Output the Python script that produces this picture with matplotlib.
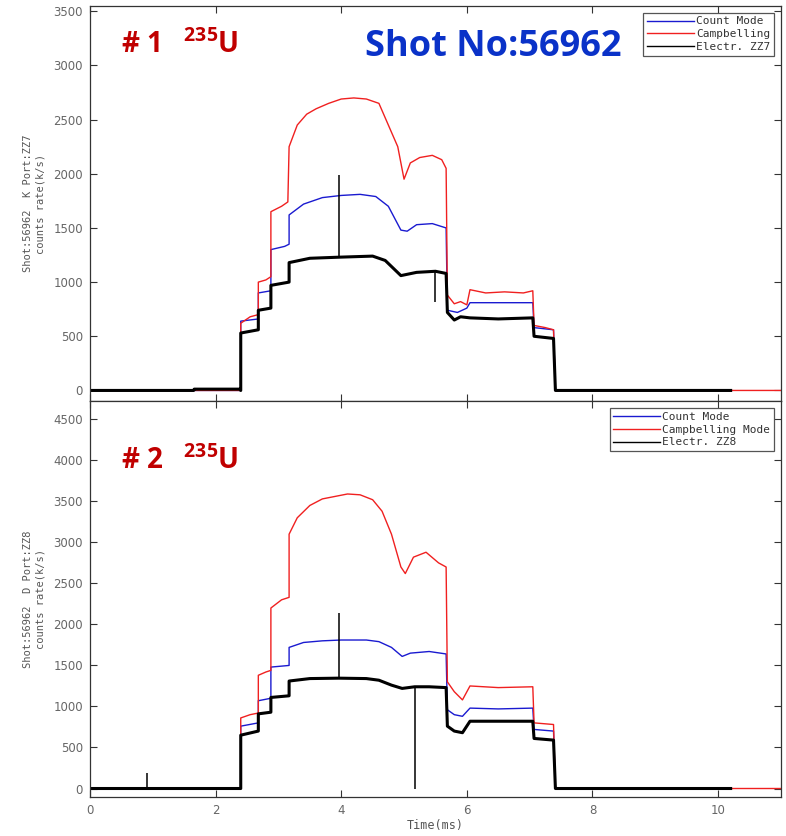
import matplotlib
matplotlib.use('Agg')
import matplotlib.pyplot as plt

plt.rcParams['mathtext.fontset'] = 'custom'
plt.rcParams['mathtext.bf'] = 'Open Sans:bold'
plt.rcParams['mathtext.rm'] = 'Open Sans'

# ---- panel 1 (K port, ZZ7) ----
t1_red = [0, 2.40, 2.40, 2.55, 2.68, 2.68, 2.80, 2.88, 2.88, 3.05, 3.15, 3.17, 3.30, 3.45, 3.60,
          3.80, 4.00, 4.20, 4.40, 4.60, 4.75, 4.90, 5.00, 5.10, 5.25, 5.45, 5.60, 5.67, 5.69, 5.80,
          5.90, 6.00, 6.05, 6.30, 6.60, 6.90, 7.05, 7.07, 7.25, 7.38, 7.41, 11.0]
v1_red = [0, 0, 620, 680, 700, 1000, 1020, 1050, 1650, 1700, 1740, 2250, 2450, 2550, 2600,
          2650, 2690, 2700, 2690, 2650, 2450, 2250, 1950, 2100, 2150, 2170, 2130, 2050, 880, 800,
          820, 790, 930, 900, 910, 900, 920, 600, 580, 560, 0, 0]

t1_blue = [0, 2.40, 2.40, 2.68, 2.68, 2.88, 2.88, 3.10, 3.17, 3.17, 3.40, 3.70, 4.00, 4.30, 4.55,
           4.75, 4.95, 5.05, 5.20, 5.45, 5.67, 5.69, 5.85, 6.00, 6.05, 6.50, 7.05, 7.07, 7.38, 7.41, 10.2]
v1_blue = [0, 0, 640, 660, 900, 920, 1300, 1330, 1350, 1620, 1720, 1780, 1800, 1810, 1790,
           1700, 1480, 1470, 1530, 1540, 1500, 740, 720, 760, 810, 810, 810, 580, 560, 0, 0]

t1_blk = [0, 1.65, 1.66, 2.38, 2.40, 2.40, 2.68, 2.68, 2.88, 2.88, 3.17, 3.17, 3.50, 3.96, 4.50,
          4.70, 4.95, 5.20, 5.50, 5.67, 5.69, 5.80, 5.90, 6.05, 6.50, 7.05, 7.07,
          7.38, 7.41, 10.2]
v1_blk = [0, 0, 12, 12, 0, 530, 560, 740, 760, 970, 1000, 1180, 1220, 1230, 1240,
          1200, 1060, 1090, 1100, 1080, 720, 650, 680, 670, 660, 670, 500,
          480, 0, 0]
# thin spikes on the black trace: time, base, tip
s1_t = [3.96, 5.50]
s1_base = [1230, 1100]
s1_tip = [1990, 820]

# ---- panel 2 (D port, ZZ8) ----
t2_red = [0, 2.40, 2.40, 2.55, 2.68, 2.68, 2.80, 2.88, 2.88, 3.05, 3.17, 3.17, 3.30, 3.50, 3.70,
          3.90, 4.10, 4.30, 4.50, 4.65, 4.80, 4.95, 5.02, 5.15, 5.35, 5.55, 5.67, 5.69, 5.80,
          5.93, 6.05, 6.50, 7.05, 7.07, 7.38, 7.41, 11.0]
v2_red = [0, 0, 860, 900, 920, 1380, 1420, 1440, 2200, 2300, 2330, 3100, 3300, 3450, 3530,
          3560, 3590, 3580, 3520, 3380, 3100, 2700, 2620, 2820, 2880, 2750, 2700, 1300, 1180,
          1080, 1250, 1230, 1240, 800, 780, 0, 0]

t2_blue = [0, 2.40, 2.40, 2.68, 2.68, 2.88, 2.88, 3.17, 3.17, 3.40, 3.70, 4.00, 4.40, 4.60, 4.80,
           4.97, 5.10, 5.40, 5.67, 5.69, 5.80, 5.93, 6.05, 6.50, 7.05, 7.07, 7.38, 7.41, 10.2]
v2_blue = [0, 0, 760, 800, 1070, 1100, 1480, 1500, 1720, 1780, 1800, 1810, 1810, 1790, 1720,
           1610, 1650, 1670, 1640, 960, 900, 880, 980, 970, 980, 720, 700, 0, 0]

t2_blk = [0, 2.40, 2.40, 2.68, 2.68, 2.88, 2.88, 3.17, 3.17, 3.50, 3.96,
          4.40, 4.60, 4.80, 4.97, 5.17, 5.40, 5.67, 5.69, 5.80, 5.93, 6.05,
          6.50, 7.05, 7.07, 7.38, 7.41, 10.2]
v2_blk = [0, 0, 650, 700, 910, 930, 1110, 1130, 1310, 1340, 1345,
          1340, 1320, 1260, 1220, 1240, 1240, 1230, 760, 700, 680, 820,
          820, 820, 610, 590, 0, 0]
s2_t = [0.90, 3.96, 5.17]
s2_base = [0, 1345, 1240]
s2_tip = [190, 2140, 0]

xticks = [0, 2, 4, 6, 8, 10]
yticks1 = [0, 500, 1000, 1500, 2000, 2500, 3000, 3500]
yticks2 = [0, 500, 1000, 1500, 2000, 2500, 3000, 3500, 4000, 4500]

fig = plt.figure(figsize=(7.86, 8.36), dpi=100)
ax1 = fig.add_axes([0.1145, 0.520, 0.879, 0.473])
ax2 = fig.add_axes([0.1145, 0.047, 0.879, 0.473])

BLUE = '#1a1ad0'
RED = '#f02020'
mono = 'DejaVu Sans Mono'

panels = [
    (ax1, t1_blue, v1_blue, t1_red, v1_red, t1_blk, v1_blk, s1_t, s1_base, s1_tip, yticks1, (-100, 3550),
     ['Count Mode', 'Campbelling', 'Electr. ZZ7'], 'Shot:56962  K Port:ZZ7\ncounts rate(k/s)'),
    (ax2, t2_blue, v2_blue, t2_red, v2_red, t2_blk, v2_blk, s2_t, s2_base, s2_tip, yticks2, (-100, 4720),
     ['Count Mode', 'Campbelling Mode', 'Electr. ZZ8'], 'Shot:56962  D Port:ZZ8\ncounts rate(k/s)'),
]

for ax, tb, vb, tr, vr, tk, vk, st, sb, sp, yt, yl, labels, ylab in panels:
    ax.plot(tb, vb, color=BLUE, lw=1.0, label=labels[0])
    ax.plot(tr, vr, color=RED, lw=1.0, label=labels[1])
    ax.plot(tk, vk, color='black', lw=2.2, label=labels[2])
    ax.vlines(st, sb, sp, color='black', lw=1.1)
    ax.set_xlim(0, 11)
    ax.set_ylim(*yl)
    ax.set_xticks(xticks)
    ax.set_yticks(yt)
    ax.tick_params(direction='in', top=True, right=True, length=5, width=0.8,
                   color='#333333', labelcolor='#666666', labelsize=8.5, pad=5)
    for s in ax.spines.values():
        s.set_color('#333333')
        s.set_linewidth(0.9)
    ax.set_ylabel(ylab, fontsize=7.5, family=mono, color='#555555', labelpad=6)
    leg = ax.legend(loc='upper right', prop={'family': mono, 'size': 8},
                    fancybox=False, edgecolor='#555555', framealpha=1,
                    handlelength=4.2, handletextpad=0.2, borderpad=0.35,
                    labelspacing=0.25, borderaxespad=0.6)
    leg.get_frame().set_linewidth(0.9)
    for line in leg.get_lines():
        line.set_linewidth(1.0)
    for txt in leg.get_texts():
        txt.set_color('#333333')

ax1.tick_params(labelbottom=False)
ax2.set_xlabel('Time(ms)', fontsize=8.5, family=mono, color='#555555', labelpad=2)

ax1.text(0.045, 0.88, r'# 1   $\mathbf{^{235}}$U', transform=ax1.transAxes,
         fontsize=20, fontweight='bold', family='Open Sans', color='#c00000')
ax2.text(0.045, 0.83, r'# 2   $\mathbf{^{235}}$U', transform=ax2.transAxes,
         fontsize=20, fontweight='bold', family='Open Sans', color='#c00000')
fig.text(0.627, 0.944, 'Shot No:56962', fontsize=26, fontweight='bold',
         family='Open Sans', color='#0a32c8', ha='center', va='center')

fig.savefig('out.png', dpi=100)
